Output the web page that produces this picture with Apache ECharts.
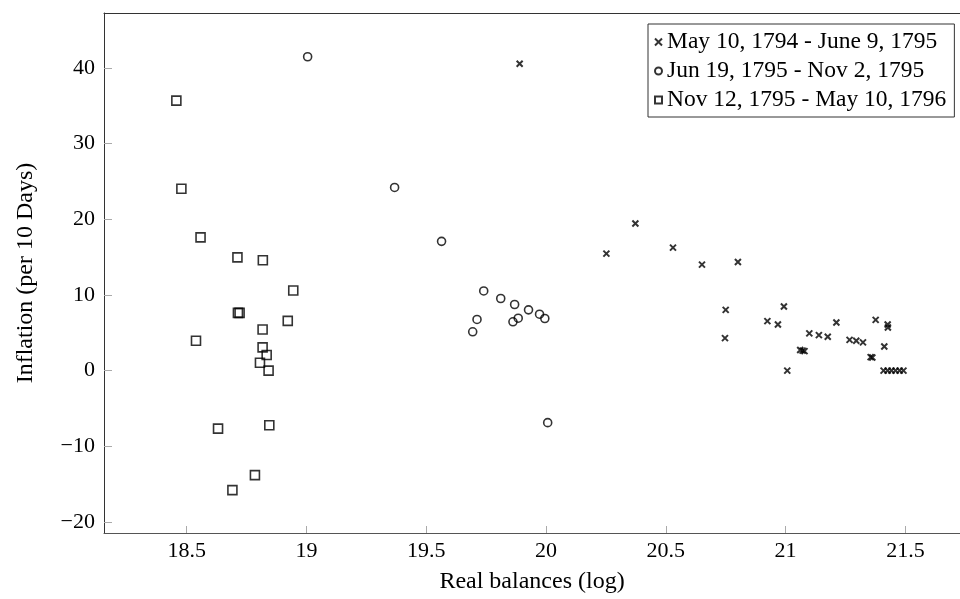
<!DOCTYPE html>
<html>
<head>
<meta charset="utf-8">
<script src="https://cdn.jsdelivr.net/npm/echarts@6/dist/echarts.min.js"></script>
<style>
  html, body { margin: 0; padding: 0; background: #fff; overflow: hidden; }
  #chart { width: 960px; height: 599px; }
</style>
</head>
<body>
<div id="chart"></div>
<script>
// May 10, 1794 - June 9, 1795
var periodA = [
  [19.890, 40.54], [20.252, 15.46], [20.373, 19.45], [20.530, 16.25], [20.651, 14.01],
  [20.801, 14.35], [20.750, 8.03], [20.747, 4.30], [20.993, 8.48], [20.924, 6.54],
  [20.968, 6.10], [21.099, 4.92], [21.139, 4.69], [21.176, 4.47], [21.212, 6.37],
  [21.061, 2.72], [21.071, 2.65], [21.079, 2.58], [21.007, 0], [21.267, 4.07],
  [21.295, 3.94], [21.323, 3.73], [21.376, 6.71], [21.426, 6.10], [21.427, 5.71],
  [21.412, 3.20], [21.355, 1.79], [21.362, 1.73], [21.409, 0], [21.426, 0],
  [21.442, 0], [21.459, 0], [21.476, 0], [21.492, 0]
];
// Jun 19, 1795 - Nov 2, 1795
var periodB = [
  [19.005, 41.47], [19.368, 24.20], [19.564, 17.08], [19.740, 10.53], [19.811, 9.53],
  [19.869, 8.74], [19.927, 8.03], [19.973, 7.46], [19.995, 6.89], [19.712, 6.76],
  [19.694, 5.13], [19.862, 6.45], [19.884, 6.93], [20.007, -6.87]
];
// Nov 12, 1795 - May 10, 1796
var periodC = [
  [18.457, 35.67], [18.478, 24.03], [18.558, 17.61], [18.712, 14.97], [18.818, 14.58],
  [18.945, 10.58], [18.714, 7.63], [18.721, 7.63], [18.922, 6.58], [18.817, 5.44],
  [18.539, 3.94], [18.817, 3.07], [18.834, 2.06], [18.806, 1.04], [18.842, 0],
  [18.631, -7.66], [18.845, -7.21], [18.785, -13.80], [18.691, -15.78]
];
var seriesNames = ['May 10, 1794 - June 9, 1795', 'Jun 19, 1795 - Nov 2, 1795', 'Nov 12, 1795 - May 10, 1796'];
var xTicks = [18.5, 19, 19.5, 20, 20.5, 21, 21.5];
var yTicks = [-20, -10, 0, 10, 20, 30, 40];

var font = 'Liberation Serif';
var chart = echarts.init(document.getElementById('chart'));

function fmtY(v) {
  return v < 0 ? '\u2212' + Math.abs(v) : String(v);
}

var option = {
  animation: false,
  backgroundColor: '#fff',
  // the right side of the box is cut off in the picture: x range ends at the edge
  grid: { show: false, left: 104, right: 0, top: 13, bottom: 65 },
  legend: {
    orient: 'vertical',
    left: 648, top: 24,
    padding: [6, 8, 5, 6],
    itemGap: 5,
    itemWidth: 7, itemHeight: 7,
    borderColor: '#333', borderWidth: 1,
    backgroundColor: '#fff',
    textStyle: { fontFamily: font, fontSize: 23.5, lineHeight: 24, color: '#000' },
    data: seriesNames
  },
  xAxis: [{
    type: 'value',
    min: 18.155, max: 21.728,
    interval: 0.5,
    name: 'Real balances (log)',
    nameLocation: 'middle', nameGap: 37,
    nameTextStyle: { fontFamily: font, fontSize: 24, color: '#000' },
    axisLine: { show: true, onZero: false, lineStyle: { color: '#555', width: 1 } },
    axisTick: {
      show: true, inside: true, length: 7,
      lineStyle: { color: '#aaa' },
      customValues: xTicks
    },
    axisLabel: {
      fontFamily: font, fontSize: 22, color: '#000', margin: 7,
      customValues: xTicks
    },
    splitLine: { show: false }
  }, {
    // top edge of the box
    type: 'value', position: 'top',
    min: 18.155, max: 21.728,
    axisLine: { show: true, onZero: false, lineStyle: { color: '#333', width: 1 } },
    axisTick: { show: false },
    axisLabel: { show: false },
    splitLine: { show: false }
  }],
  yAxis: {
    type: 'value',
    min: -21.45, max: 47.25,
    name: 'Inflation (per 10 Days)',
    nameLocation: 'middle', nameGap: 66, nameRotate: 90,
    nameTextStyle: { fontFamily: font, fontSize: 24, color: '#000' },
    axisLine: { show: true, onZero: false, lineStyle: { color: '#333', width: 1 } },
    axisTick: {
      show: true, inside: true, length: 8,
      lineStyle: { color: '#aaa' },
      customValues: yTicks
    },
    axisLabel: {
      fontFamily: font, fontSize: 22, color: '#000', margin: 9,
      customValues: yTicks,
      formatter: fmtY
    },
    splitLine: { show: false }
  },
  series: [
    {
      name: seriesNames[0], type: 'scatter', data: periodA,
      symbol: 'path://M0,0L10,10M10,0L0,10', symbolSize: 6,
      itemStyle: { color: 'transparent', borderColor: '#000', borderWidth: 2 }
    },
    {
      name: seriesNames[1], type: 'scatter', data: periodB,
      symbol: 'circle', symbolSize: 8,
      itemStyle: { color: 'transparent', borderColor: '#000', borderWidth: 1.6 }
    },
    {
      name: seriesNames[2], type: 'scatter', data: periodC,
      symbol: 'rect', symbolSize: 9,
      itemStyle: { color: 'transparent', borderColor: '#000', borderWidth: 1.6 }
    }
  ]
};

chart.setOption(option);
</script>
</body>
</html>
